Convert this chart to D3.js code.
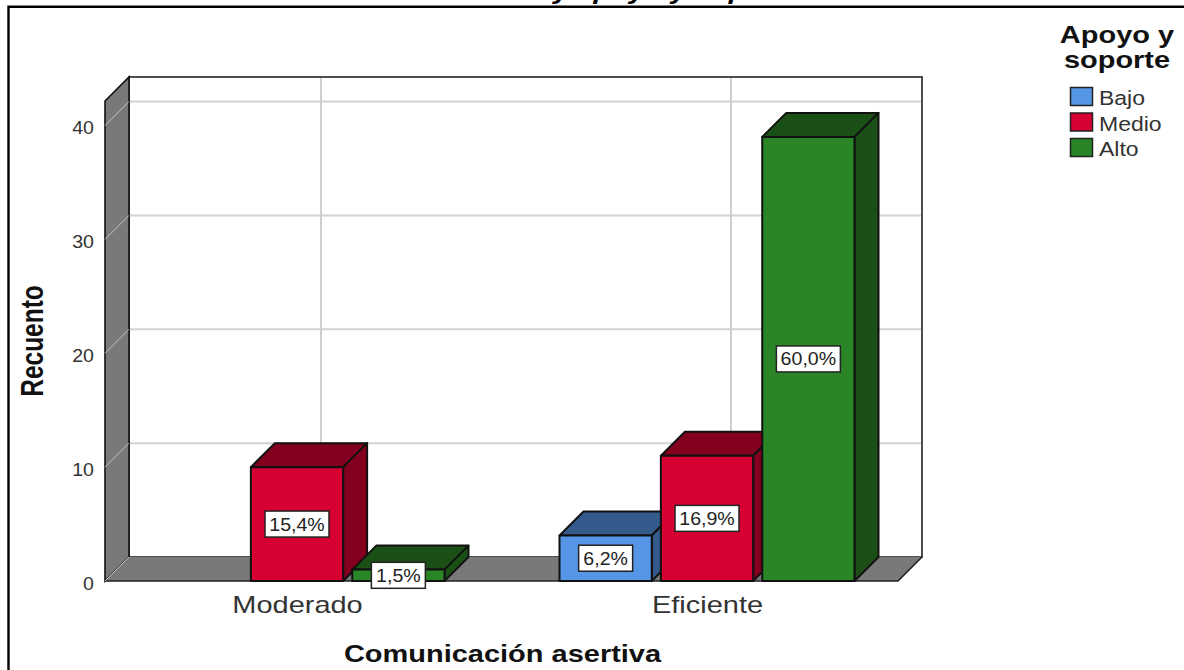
<!DOCTYPE html>
<html>
<head>
<meta charset="utf-8">
<script src="https://cdn.jsdelivr.net/npm/d3@7"></script>
<style>
  html, body { margin: 0; padding: 0; background: #fff; overflow: hidden; }
  text { font-family: "Liberation Sans", Arial, sans-serif; }
</style>
</head>
<body>
<div id="chart"></div>
<script>
// Recuento de Apoyo y soporte por Comunicación asertiva (3D bars, SPSS style)
const width = 1184;
const height = 670;

const categories = ["Moderado", "Eficiente"];
const series = ["Bajo", "Medio", "Alto"];
const bajoValues = [0, 4];
const medioValues = [10, 11];
const altoValues = [1, 39];
const bajoLabels = ["", "6,2%"];
const medioLabels = ["15,4%", "16,9%"];
const altoLabels = ["1,5%", "60,0%"];
const yTicks = [0, 10, 20, 30, 40];

const frontColors = ["#5596e6", "#d60032", "#2a8526"];
const sideColors = ["#335a8a", "#82001e", "#1a5016"];

// The picture is stretched sideways, so the text gets stretched too
const sx = 1.26;
const sxSmall = 1.12;
const depth = 24;
const floorLeft = 105;
const floorRight = 898;
const wallTop = 101;

const y = d3.scaleLinear().domain([0, 40]).range([581, 125.5]);
const x0 = d3.scalePoint().domain(categories).range([297, 707]);
const x1 = d3.scaleBand().domain(series).range([-147.5, 147.5]).paddingInner(0.09);
const color = d3.scaleOrdinal().domain(series).range(frontColors);
const side = d3.scaleOrdinal().domain(series).range(sideColors);

const bars = [];
series.forEach((s, i) => {
    const vals = [bajoValues, medioValues, altoValues][i];
    const labs = [bajoLabels, medioLabels, altoLabels][i];
    categories.forEach((c, j) => {
        if (vals[j] > 0) bars.push({ category: c, serie: s, value: vals[j], label: labs[j] });
    });
});
bars.sort((a, b) => categories.indexOf(a.category) - categories.indexOf(b.category));

const svg = d3.select("#chart")
    .append("svg")
    .attr("width", width)
    .attr("height", height)
    .style("display", "block");

const poly = pts => pts.map(p => p.join(",")).join(" ");

// Caption is cut off above the frame in the reference too
svg.append("text")
    .attr("transform", `translate(228,-1.5) scale(${sx},1)`)
    .attr("font-size", 23)
    .attr("font-style", "italic")
    .attr("font-weight", "bold")
    .attr("fill", "#000")
    .text("Comunicación asertiva y apoyo y soporte");

// Outer frame (left and top only are visible)
svg.append("path")
    .attr("d", `M8.5,${height}V6.8H${width}`)
    .attr("fill", "none")
    .attr("stroke", "#000")
    .attr("stroke-width", 2.4);

// Back wall
svg.append("rect")
    .attr("x", floorLeft + depth)
    .attr("y", wallTop - depth)
    .attr("width", floorRight - floorLeft)
    .attr("height", y(0) - wallTop)
    .attr("fill", "#fff")
    .attr("stroke", "#222")
    .attr("stroke-width", 1.6);

// Side wall and floor
svg.append("polygon")
    .attr("points", poly([[floorLeft, y(0)], [floorLeft, wallTop], [floorLeft + depth, wallTop - depth], [floorLeft + depth, y(0) - depth]]))
    .attr("fill", "#797979")
    .attr("stroke", "#111")
    .attr("stroke-width", 1.6);

svg.append("polygon")
    .attr("points", poly([[floorLeft, y(0)], [floorRight, y(0)], [floorRight + depth, y(0) - depth], [floorLeft + depth, y(0) - depth]]))
    .attr("fill", "#797979");

svg.append("path")
    .attr("d", `M${floorLeft},${y(0)}H${floorRight}L${floorRight + depth},${y(0) - depth}`)
    .attr("fill", "none")
    .attr("stroke", "#222")
    .attr("stroke-width", 1.6);

// Gridlines on back wall and on the side wall
svg.append("g").selectAll("line")
    .data(yTicks.filter(d => d > 0))
    .join("line")
    .attr("x1", floorLeft + depth + 1)
    .attr("x2", floorRight + depth - 1)
    .attr("y1", d => y(d) - depth)
    .attr("y2", d => y(d) - depth)
    .attr("stroke", "#d2d2d2")
    .attr("stroke-width", 2);

svg.append("g").selectAll("line")
    .data(categories)
    .join("line")
    .attr("x1", d => x0(d) + depth)
    .attr("x2", d => x0(d) + depth)
    .attr("y1", wallTop - depth + 1)
    .attr("y2", y(0) - depth)
    .attr("stroke", "#cfcfcf")
    .attr("stroke-width", 2);

svg.append("g").selectAll("line")
    .data(yTicks)
    .join("line")
    .attr("x1", floorLeft)
    .attr("x2", floorLeft + depth)
    .attr("y1", d => y(d))
    .attr("y2", d => y(d) - depth)
    .attr("stroke", "#c4c4c4")
    .attr("stroke-width", 1);

// Axes, labels stretched like the rest of the text
const yAxis = svg.append("g")
    .attr("transform", `translate(${floorLeft},0)`)
    .call(d3.axisLeft(y).tickValues(yTicks).tickSize(0));
yAxis.select(".domain").remove();
yAxis.selectAll("text")
    .attr("x", 0)
    .attr("dy", 0)
    .attr("transform", `translate(-11,8) scale(${sxSmall},1)`)
    .attr("font-family", "Liberation Sans")
    .attr("font-size", 17.5)
    .attr("fill", "#333");

const xAxis = svg.append("g")
    .attr("transform", `translate(0,${y(0)})`)
    .call(d3.axisBottom(x0).tickSize(0));
xAxis.select(".domain").remove();
xAxis.selectAll("text")
    .attr("y", 0)
    .attr("dy", 0)
    .attr("transform", `translate(0,32) scale(${sx},1)`)
    .attr("font-family", "Liberation Sans")
    .attr("font-size", 23)
    .attr("fill", "#333");

// Bars: left to right so that the next bar covers the side of the previous one
const bar = svg.append("g").selectAll("g")
    .data(bars)
    .join("g")
    .attr("stroke", "#111")
    .attr("stroke-width", 2)
    .attr("stroke-linejoin", "round");

const left = d => x0(d.category) + x1(d.serie);
const right = d => left(d) + x1.bandwidth();

bar.append("polygon")
    .attr("fill", d => side(d.serie))
    .attr("points", d => poly([
        [left(d), y(d.value)], [right(d), y(d.value)],
        [right(d) + depth, y(d.value) - depth], [left(d) + depth, y(d.value) - depth]
    ]));

bar.append("polygon")
    .attr("fill", d => side(d.serie))
    .attr("points", d => poly([
        [right(d), y(d.value)], [right(d) + depth, y(d.value) - depth],
        [right(d) + depth, y(0) - depth], [right(d), y(0)]
    ]));

bar.append("rect")
    .attr("fill", d => color(d.serie))
    .attr("x", d => left(d))
    .attr("y", d => y(d.value))
    .attr("width", x1.bandwidth())
    .attr("height", d => y(0) - y(d.value));

// Percent boxes in the middle of the front face
const tag = svg.append("g").selectAll("g")
    .data(bars)
    .join("g")
    .attr("transform", d => `translate(${left(d) + x1.bandwidth() / 2},${(y(d.value) + y(0)) / 2})`);

tag.append("rect")
    .attr("x", d => d.label.length > 4 ? -32 : -27)
    .attr("y", -13)
    .attr("width", d => d.label.length > 4 ? 64 : 54)
    .attr("height", 26)
    .attr("fill", "#fff")
    .attr("stroke", "#222")
    .attr("stroke-width", 1.5);

tag.append("text")
    .attr("transform", `translate(0,6.5) scale(${sxSmall},1)`)
    .attr("text-anchor", "middle")
    .attr("font-size", 17.5)
    .attr("fill", "#222")
    .text(d => d.label);

// Axis titles
svg.append("text")
    .attr("transform", `translate(${(floorLeft + floorRight) / 2 + 1},662) scale(${sx},1)`)
    .attr("text-anchor", "middle")
    .attr("font-size", 23)
    .attr("font-weight", "bold")
    .attr("fill", "#111")
    .text("Comunicación asertiva");

svg.append("text")
    .attr("transform", `translate(43,341) scale(${sx},1) rotate(-90)`)
    .attr("text-anchor", "middle")
    .attr("font-size", 24.5)
    .attr("font-weight", "bold")
    .attr("fill", "#111")
    .text("Recuento");

// Legend
const legendTitle = ["Apoyo y", "soporte"];
svg.append("g").selectAll("text")
    .data(legendTitle)
    .join("text")
    .attr("transform", (d, i) => `translate(1117,${43 + i * 25}) scale(${sx},1)`)
    .attr("text-anchor", "middle")
    .attr("font-size", 23)
    .attr("font-weight", "bold")
    .attr("fill", "#111")
    .text(d => d);

const legend = svg.append("g").selectAll("g")
    .data(series)
    .join("g")
    .attr("transform", (d, i) => `translate(1070,${87 + i * 25.5})`);

legend.append("rect")
    .attr("x", 0.5)
    .attr("y", 0.5)
    .attr("width", 22)
    .attr("height", 18)
    .attr("fill", d => color(d))
    .attr("stroke", "#222")
    .attr("stroke-width", 1.5);

legend.append("text")
    .attr("transform", `translate(29,18) scale(1.18,1)`)
    .attr("font-size", 19.5)
    .attr("fill", "#333")
    .text(d => d);
</script>
</body>
</html>
